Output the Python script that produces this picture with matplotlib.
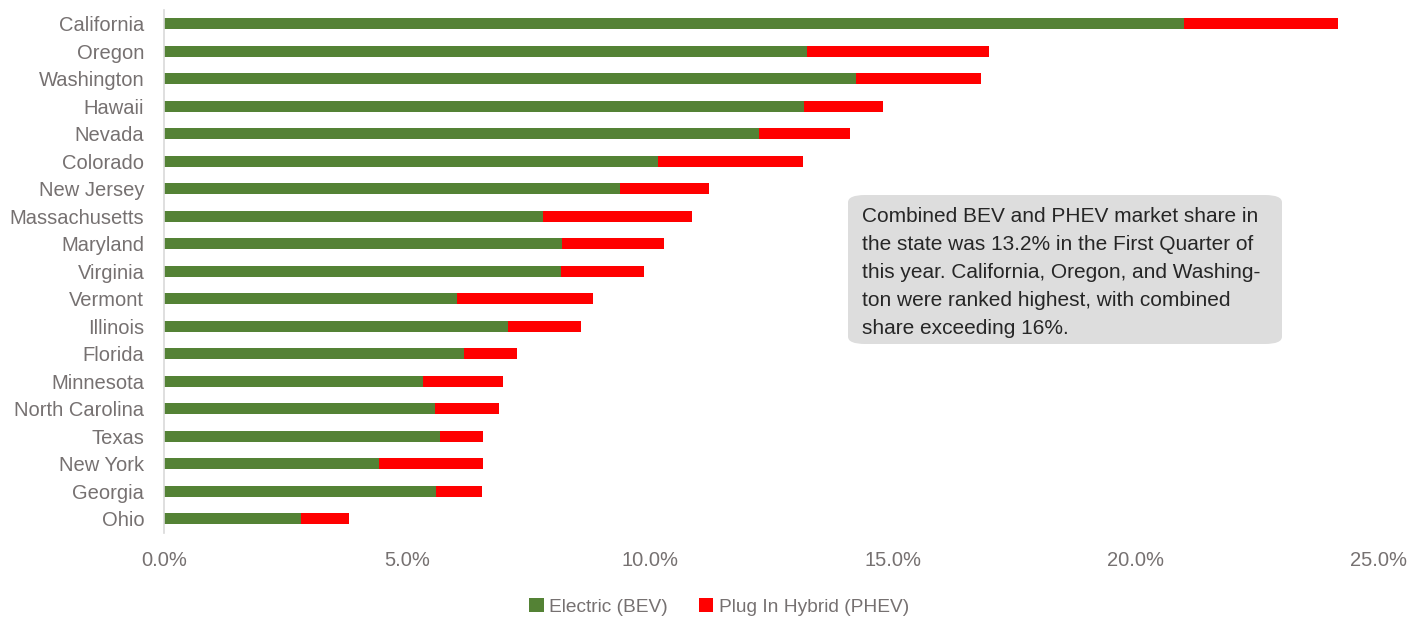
import matplotlib.pyplot as plt
from matplotlib.patches import FancyBboxPatch
from matplotlib.ticker import FuncFormatter

plt.rcParams['font.family'] = ['Liberation Sans', 'DejaVu Sans']

states = ["California", "Oregon", "Washington", "Hawaii", "Nevada", "Colorado",
          "New Jersey", "Massachusetts", "Maryland", "Virginia", "Vermont",
          "Illinois", "Florida", "Minnesota", "North Carolina", "Texas",
          "New York", "Georgia", "Ohio"]
# percent share
bev = [21.0, 13.24, 14.24, 13.18, 12.25, 10.17, 9.39, 7.81, 8.20, 8.18, 6.04,
       7.09, 6.17, 5.34, 5.59, 5.69, 4.44, 5.61, 2.82]
total = [24.17, 16.98, 16.83, 14.80, 14.12, 13.16, 11.22, 10.87, 10.30, 9.89, 8.84,
         8.59, 7.26, 6.99, 6.89, 6.58, 6.58, 6.54, 3.82]
phev = [t - b for t, b in zip(total, bev)]

green = "#548235"
red = "#ff0000"
grey_txt = "#767171"

fig = plt.figure(figsize=(14.24, 6.18), dpi=100)
ax = fig.add_axes([0.115, 0.138, 0.853, 0.846])

y = list(range(len(states)))
ax.barh(y, bev, height=0.4, color=green, label="Electric (BEV)")
ax.barh(y, phev, left=bev, height=0.4, color=red, label="Plug In Hybrid (PHEV)")

ax.set_ylim(len(states) - 0.5, -0.5)
ax.set_xlim(0, 25)
ax.set_yticks(y)
ax.set_yticklabels(states)
ax.set_xticks([0, 5, 10, 15, 20, 25])
ax.xaxis.set_major_formatter(FuncFormatter(lambda v, p: f"{v:.1f}%"))
ax.tick_params(axis='y', length=0, pad=14, labelsize=14.5, labelcolor=grey_txt)
ax.tick_params(axis='x', length=0, pad=13, labelsize=14.5, labelcolor=grey_txt)
for s in ["top", "right", "bottom"]:
    ax.spines[s].set_visible(False)
ax.spines["left"].set_color("#d9d9d9")
ax.spines["left"].set_linewidth(1.2)

# callout box
box = FancyBboxPatch((848 / 1424, 1 - 344 / 618), (1282 - 848) / 1424, (344 - 195) / 618,
                     boxstyle="round,pad=0,rounding_size=0.012",
                     transform=fig.transFigure, facecolor="#dddddd", edgecolor="none")
fig.patches.append(box)
note = ("Combined BEV and PHEV market share in\n"
        "the state was 13.2% in the First Quarter of\n"
        "this year. California, Oregon, and Washing-\n"
        "ton were ranked highest, with combined\n"
        "share exceeding 16%.")
fig.text(862 / 1424, 1 - 207 / 618, note, ha="left", va="top", fontsize=15,
         color="#262626", linespacing=1.6)

fig.legend(loc="center", bbox_to_anchor=(0.505, 1 - 607 / 618), ncol=2, frameon=False,
           fontsize=13.8, labelcolor=grey_txt, handlelength=0.75, handleheight=0.75,
           handletextpad=0.3, columnspacing=1.6)

fig.savefig("out.png", dpi=100)
